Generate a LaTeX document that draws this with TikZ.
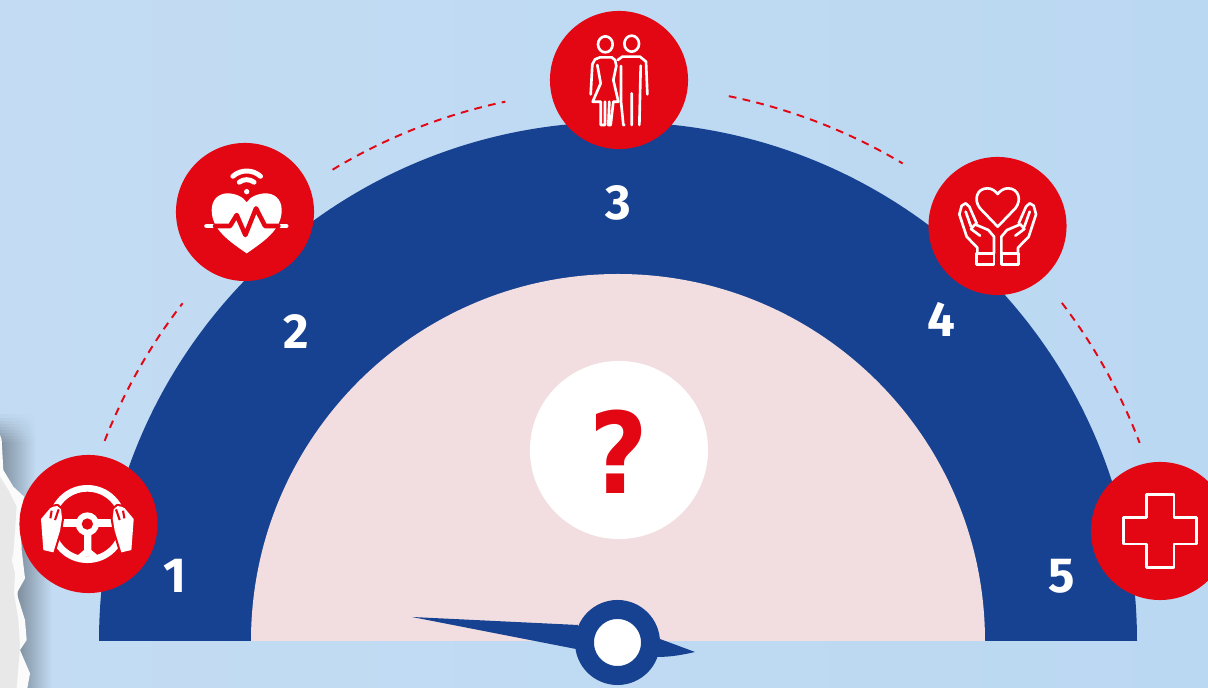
\documentclass[tikz,border=0pt]{standalone}
\usepackage{fontspec}
\setmainfont{Fira Sans}
\newfontfamily\quizfont{DejaVu Sans}
\definecolor{skyleft}{HTML}{C3DCF3}
\definecolor{skyright}{HTML}{BBD8F2}
\definecolor{gaugeblue}{HTML}{174291}
\definecolor{gaugepink}{HTML}{F2DEE0}
\definecolor{signalred}{HTML}{E30613}
\definecolor{tornshadow}{HTML}{7F8F9F}
\tikzset{
  badge/.style={circle,fill=signalred,inner sep=0pt,minimum size=1.38cm},
  numlabel/.style={text=white,font=\bfseries\fontsize{14}{16}\selectfont,inner sep=0pt},
  dashline/.style={signalred,line width=0.55pt,dash pattern=on 2.2pt off 1.8pt},
  zoomed/.style={x=0.03333mm,y=-0.03333mm},
  iconline/.style={white,line width=0.75pt,line join=round,line cap=round}
}
\begin{document}
\begin{tikzpicture}[x=0.01cm,y=0.01cm]
\useasboundingbox (0,0) rectangle (1208,688);
% Hintergrund
\shade[left color=skyleft,right color=skyright] (0,0) rectangle (1208,688);
% Schatten + Papierkante links
\shade[left color=tornshadow,right color=skyleft] (18,0) rectangle (52,190);
\shade[left color=tornshadow,right color=skyleft] (0,190) rectangle (36,243);
\foreach \t [evaluate=\t as \p using 100-\t*10] in {0,...,9}{
 \shade[left color=tornshadow!\p!skyleft,right color=skyleft] (0,243+3*\t) rectangle (36,246+3*\t);
}
\begin{scope}[shift={(0,248)},zoomed]
 \fill[white!97!gray] (0,-15) -- (5,0) -- (10,90) -- (40,140) -- (72,170) -- (62,240) -- (65,330) -- (75,415) -- (50,460) -- (75,540) -- (80,600) -- (60,630) -- (90,700) -- (82,744) -- (0,744) -- cycle;
 \fill[white!82!gray] (0,110) -- (25,150) -- (50,200) -- (40,340) -- (35,360) -- (45,400) -- (42,460) -- (55,540) -- (60,620) -- (50,744) -- (0,744) -- cycle;
\end{scope}
% Halbkreise
\fill[gaugeblue] (99,47) arc (180:0:519) -- cycle;
\fill[gaugepink] (251,47) arc (180:0:367) -- cycle;
\node[circle,fill=white,inner sep=0pt,minimum size=1.78cm] (quiz) at (619,238) {};
\node[text=signalred,font=\quizfont\bfseries\fontsize{32}{36}\selectfont,inner sep=0pt,xscale=0.9] (quizmark) at (619,236.5) {?};
% gestrichelte Boegen
\draw[dashline] (618,47) ++(158.7:551) arc (158.7:142.2:551);
\draw[dashline] (618,47) ++(121.2:551) arc (121.2:101.8:551);
\draw[dashline] (618,47) ++(78.5:556) arc (78.5:59.2:556);
\draw[dashline] (618,47) ++(37.3:558) arc (37.3:20.8:558);
% Zeiger
\fill[gaugeblue] (412,71) -- (578,63) -- (576,39) -- cycle;
\fill[gaugeblue] (660,49) -- (695,36) .. controls (682,33) and (670,31) .. (657,31) -- cycle;
\node[circle,fill=white,draw=gaugeblue,line width=5.4pt,inner sep=0pt,minimum size=0.66cm,outer sep=0pt] (hub) at (617.5,45.5) {};
% Ziffern
\node[numlabel] (one) at (175,112) {1};
\node[numlabel] (two) at (296,356) {2};
\node[numlabel] (three) at (618,485) {3};
\node[numlabel] (four) at (941,369) {4};
\node[numlabel] (five) at (1062,112) {5};
% Kreise
\node[badge] (wheel) at (88.5,164) {};
\node[badge] (pulse) at (245,476) {};
\node[badge] (couple) at (619,608) {};
\node[badge] (care) at (997.5,462) {};
\node[badge] (cross) at (1160,157) {};
% Lenkrad mit Haenden
\begin{scope}[shift={(0,248)},zoomed]
 \draw[white,line width=1.9pt] (262,252) circle (107);
 \fill[white] (187,238) rectangle (335,262);
 \fill[white] (252,252) -- (274,252) -- (274,330) -- (298,350) -- (228,350) -- (252,330) -- cycle;
 \fill[white] (262,252) circle (35);
 \fill[signalred] (262,252) circle (17);
 \foreach \m in {0,1}{
  \begin{scope}[shift={(524*\m,0)},xscale={1-2*\m}]
   \path[fill=white,draw=signalred,line width=1.2pt,line join=round] (150,205) -- (123,237) -- (130,330) -- (160,337) -- (180,272) -- (186,235) -- (183,208) -- (172,198) -- (160,200) -- cycle;
   \fill[white] (150,205) -- (123,237) -- (130,330) -- (160,337) -- (180,272) -- (186,235) -- (183,208) -- (172,198) -- (160,200) -- cycle;
   \draw[signalred,line width=0.6pt] (155,212) -- (151,235) (176,208) -- (165,240);
  \end{scope}
 }
\end{scope}
% Herz mit Puls und Funk
\begin{scope}[shift={(170,548)},zoomed]
 \fill[white] (230,340) .. controls (180,305) and (125,270) .. (125,210) .. controls (125,175) and (150,160) .. (172,160) .. controls (195,160) and (220,170) .. (230,187) .. controls (240,170) and (265,160) .. (288,160) .. controls (310,160) and (335,175) .. (335,210) .. controls (335,270) and (280,305) .. (230,340) -- cycle;
 \draw[white,line width=1.4pt,line cap=round] (110,258) -- (135,258) (325,258) -- (348,258);
 \draw[signalred,line width=1.3pt,line join=round,line cap=round] (135,258) -- (180,258) -- (200,225) -- (226,285) -- (258,205) -- (285,258) -- (325,258);
 \fill[white] (230,155) circle (8);
 \draw[white,line width=1.4pt,line cap=round] (230,155) ++(232:36) arc (232:308:36);
 \draw[white,line width=1.4pt,line cap=round] (230,155) ++(228:62) arc (228:312:62);
\end{scope}
% Paar
\begin{scope}[shift={(545,683)},zoomed]
 \draw[iconline] (181,118) ellipse (22 and 24);
 \draw[iconline] (260,116) ellipse (22 and 24);
 \draw[iconline] (137,268) -- (142,178) -- (150,163) -- (165,157) -- (200,157) -- (210,165) -- (214,182) -- (205,225) -- (220,290) -- (205,290) -- (197,360) -- (190,360) -- (193,290);
 \draw[iconline] (157,180) -- (167,235) -- (143,290) -- (167,290) -- (167,360) -- (180,360) -- (180,290);
 \draw[iconline] (218,165) -- (232,155) -- (285,155) -- (303,170) -- (307,268);
 \draw[iconline] (228,183) -- (228,290) -- (235,360) -- (238,360);
 \draw[iconline] (260,265) -- (260,360) (287,182) -- (283,360);
\end{scope}
% Haende mit Herz
\begin{scope}[shift={(925,533)},zoomed]
 \draw[iconline] (218,215) -- (165,160) .. controls (145,135) and (155,100) .. (187,100) .. controls (200,100) and (210,107) .. (218,117) .. controls (226,107) and (236,100) .. (249,100) .. controls (281,100) and (291,135) .. (271,160) -- cycle;
 \foreach \m in {0,1}{
  \begin{scope}[shift={(436*\m,0)},xscale={1-2*\m}]
   \draw[iconline] (155,295) rectangle (207,328);
   \draw[iconline] (157,295) -- (157,278) -- (125,245) -- (103,178) -- (110,152) -- (122,145) -- (133,155) -- (155,205);
   \draw[iconline] (207,295) -- (207,245) -- (190,225) -- (150,208) -- (138,222) -- (165,242);
   \draw[iconline] (122,170) -- (138,215);
  \end{scope}
 }
\end{scope}
% Kreuz
\begin{scope}[shift={(1040,238)},zoomed]
 \draw[iconline,line cap=butt] (320,133) -- (402,133) -- (402,203) -- (470,203) -- (470,282) -- (402,282) -- (402,352) -- (320,352) -- (320,282) -- (250,282) -- (250,203) -- (320,203) -- cycle;
\end{scope}
\end{tikzpicture}
\end{document}
